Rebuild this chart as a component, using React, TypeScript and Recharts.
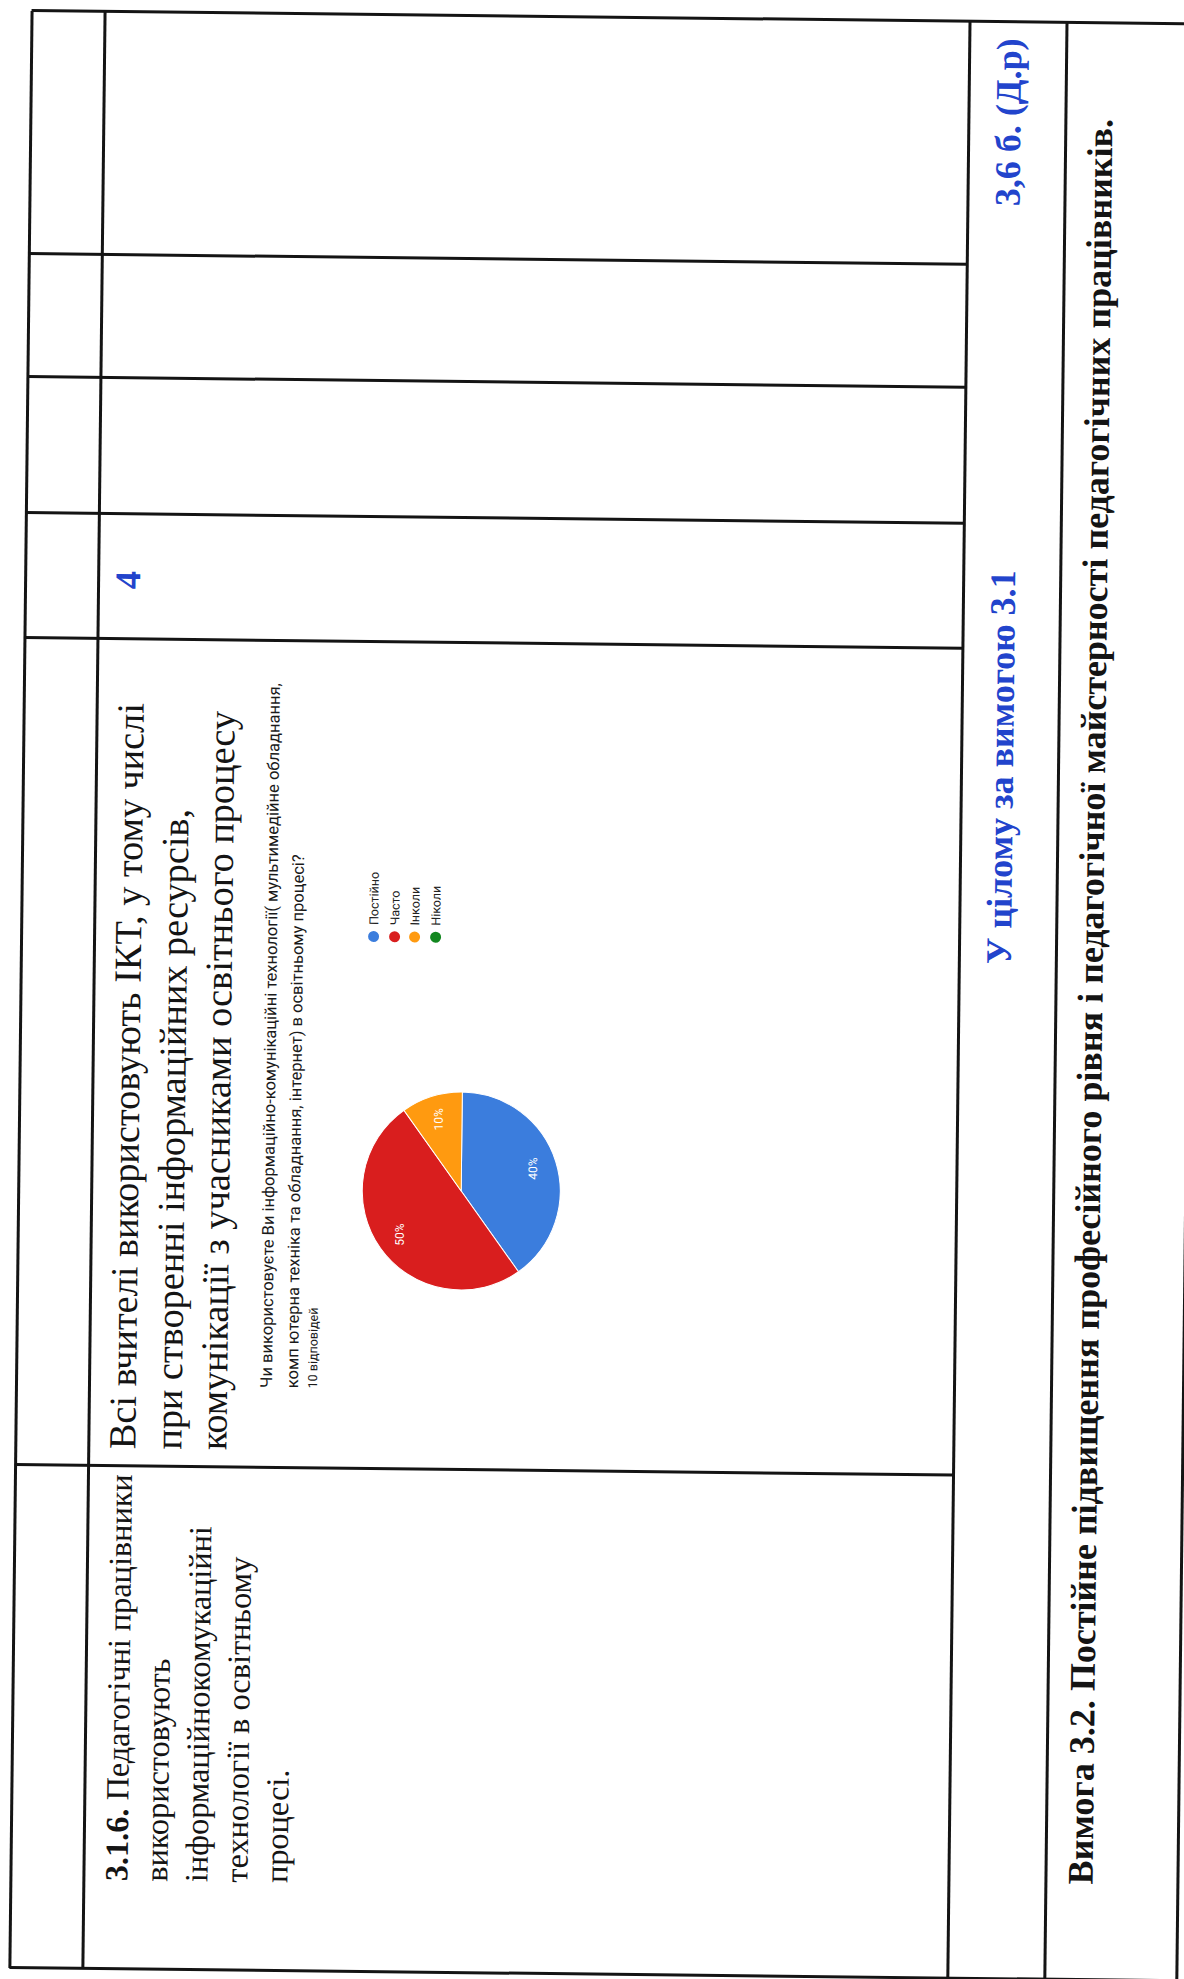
import React from 'react'
import { PieChart, Pie, Cell, Legend } from 'recharts'

// відповіді з форми
const answers = ['Постійно', 'Часто', 'Інколи', 'Ніколи']
const counts = [4, 5, 1, 0]
const colors = ['#3b7ddd', '#d91e1e', '#ff9a10', '#12871f']

const questionLines = [
  'Чи використовуєте Ви інформаційно-комунікаційні технології( мультимедійне обладнання,',
  'комп ютерна техніка та обладнання, інтернет) в освітньому процесі?'
]
const responsesLabel = '10 відповідей'

const criterionNumber = '3.1.6.'
const criterionLines = [
  ' Педагогічні працівники',
  'використовують',
  'інформаційнокомукаційні',
  'технології в освітньому',
  'процесі.'
]
const evidenceLines = [
  'Всі вчителі використовують ІКТ, у тому числі',
  'при створенні інформаційних ресурсів,',
  'комунікації з учасниками освітнього процесу'
]
const score = '4'
const totalLabel = 'У цілому за вимогою 3.1'
const totalScore = '3,6 б. (Д.р)'
const nextRequirement =
  'Вимога 3.2. Постійне підвищення професійного рівня і педагогічної майстерності педагогічних працівників.'

const pieData = answers.map((name, i) => ({ name, value: counts[i] }))
const total = counts.reduce((a, b) => a + b, 0)

const RAD = Math.PI / 180
const BLUE = '#2244cc'
const INK = '#141414'
const serif = "'Liberation Serif', 'Times New Roman', serif"

function renderPct(props: any) {
  const { cx, cy, midAngle, outerRadius, value } = props
  if (!value) return null
  const r = outerRadius * 0.76
  const x = cx + r * Math.cos(-midAngle * RAD)
  const y = cy + r * Math.sin(-midAngle * RAD)
  return (
    <text
      x={x}
      y={y}
      fill='#fff'
      fontSize={12}
      fontFamily='Roboto, Arial, sans-serif'
      textAnchor='middle'
      dominantBaseline='central'
    >
      {Math.round((value / total) * 100)}%
    </text>
  )
}

function renderLegend() {
  return (
    <div style={{ fontFamily: 'Roboto, Arial, sans-serif', fontSize: 12.5, color: '#222' }}>
      {answers.map((a, i) => (
        <div key={a} style={{ display: 'flex', alignItems: 'center', height: 20.7 }}>
          <span
            style={{
              display: 'inline-block',
              width: 11,
              height: 11,
              borderRadius: '50%',
              background: colors[i],
              marginRight: 6
            }}
          />
          <span>{a}</span>
        </div>
      ))}
    </div>
  )
}

// лінії таблиці в координатах аркуша (до повороту)
const rowLines = [20, 93, 958, 1055, 1187]
const colLines = [508, 1335, 1460, 1596, 1719]
const LEFT = 5
const RIGHT = 1962
const LW = 3

export default function App() {
  const hLine = (y: number, key: string) => (
    <div
      key={key}
      style={{ position: 'absolute', left: LEFT, top: y - LW / 2, width: RIGHT - LEFT, height: LW, background: INK }}
    />
  )
  const vLine = (x: number, y1: number, y2: number, key: string) => (
    <div
      key={key}
      style={{ position: 'absolute', left: x - LW / 2, top: y1, width: LW, height: y2 - y1, background: INK }}
    />
  )

  return (
    <div
      style={{
        position: 'absolute',
        left: 0,
        top: 0,
        width: 1184,
        height: 1979,
        overflow: 'hidden',
        background: '#fff'
      }}
    >
      <div
        style={{
          position: 'absolute',
          left: 592 - 989.5,
          top: 989.5 - 592,
          width: 1979,
          height: 1184,
          transformOrigin: '50% 50%',
          transform: 'rotate(-89.35deg)',
          fontFamily: serif,
          color: INK
        }}
      >
        {rowLines.map((y, i) => hLine(y, 'r' + i))}
        {vLine(LEFT, rowLines[0], 1190, 'vl')}
        {vLine(RIGHT, rowLines[0], 1190, 'vr')}
        {colLines.map((x, i) => vLine(x, rowLines[0], 958, 'c' + i))}

        {/* критерій */}
        <div style={{ position: 'absolute', left: 93, top: 106, fontSize: 32.3, lineHeight: '40px', whiteSpace: 'pre' }}>
          <div>
            <b>{criterionNumber}</b>
            {criterionLines[0]}
          </div>
          {criterionLines.slice(1).map(l => (
            <div key={l}>{l}</div>
          ))}
        </div>

        {/* опис */}
        <div style={{ position: 'absolute', left: 525, top: 105, fontSize: 38.3, lineHeight: '45.5px', whiteSpace: 'pre' }}>
          {evidenceLines.map(l => (
            <div key={l}>{l}</div>
          ))}
        </div>

        <div
          style={{
            position: 'absolute',
            left: 1385,
            top: 102,
            fontSize: 36,
            lineHeight: '42px',
            fontWeight: 700,
            color: BLUE
          }}
        >
          {score}
        </div>

        {/* діаграма з форми */}
        <div
          style={{
            position: 'absolute',
            left: 588,
            top: 258,
            fontFamily: 'Roboto, Arial, sans-serif',
            fontSize: 16.5,
            lineHeight: '26px',
            whiteSpace: 'pre',
            color: '#1a1a1a'
          }}
        >
          {questionLines.map(l => (
            <div key={l}>{l}</div>
          ))}
          <div style={{ fontSize: 12.5, lineHeight: '14px' }}>{responsesLabel}</div>
        </div>

        <div style={{ position: 'absolute', left: 540, top: 330 }}>
          <PieChart width={760} height={240}>
            <Pie
              data={pieData}
              dataKey='value'
              nameKey='name'
              cx={242}
              cy={128}
              outerRadius={99}
              startAngle={0}
              endAngle={-360}
              stroke='#fff'
              strokeWidth={1}
              label={renderPct}
              labelLine={false}
              isAnimationActive={false}
            >
              {pieData.map((d, i) => (
                <Cell key={d.name} fill={colors[i]} />
              ))}
            </Pie>
            <Legend
              layout='vertical'
              content={renderLegend}
              wrapperStyle={{ left: 495, top: 32, width: 140 }}
            />
          </PieChart>
        </div>

        {/* підсумок */}
        <div
          style={{
            position: 'absolute',
            left: 1020,
            top: 977,
            fontSize: 36,
            lineHeight: '42px',
            fontWeight: 700,
            color: BLUE,
            whiteSpace: 'pre'
          }}
        >
          {totalLabel}
        </div>
        <div
          style={{
            position: 'absolute',
            left: 1778,
            top: 977,
            fontSize: 36,
            lineHeight: '42px',
            fontWeight: 700,
            color: BLUE,
            whiteSpace: 'pre'
          }}
        >
          {totalScore}
        </div>

        <div
          style={{
            position: 'absolute',
            left: LEFT,
            width: RIGHT - LEFT,
            top: 1069,
            fontSize: 36,
            lineHeight: '42px',
            fontWeight: 700,
            textAlign: 'center',
            whiteSpace: 'pre'
          }}
        >
          {nextRequirement}
        </div>
      </div>
    </div>
  )
}
